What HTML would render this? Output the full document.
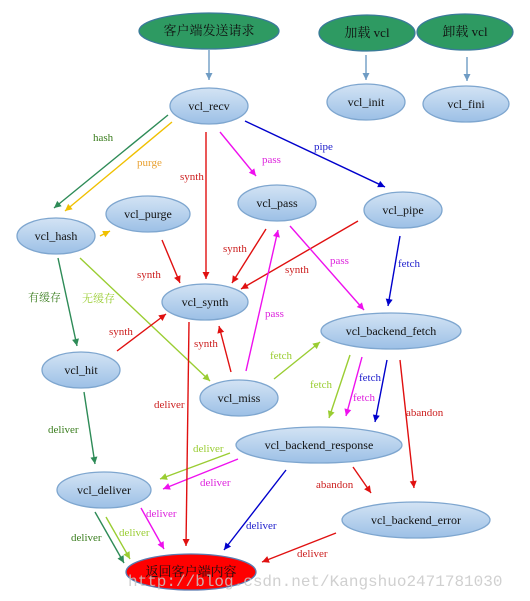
<!DOCTYPE html>
<html><head><meta charset="utf-8"><style>
html,body{margin:0;padding:0;background:#fff;}
svg{display:block;font-family:"Liberation Serif","Noto Serif CJK SC",serif;}
</style></head><body>
<svg width="530" height="601" viewBox="0 0 530 601">
<defs>
<linearGradient id="nb" x1="0" y1="0" x2="0" y2="1"><stop offset="0" stop-color="#d3e3f4"/><stop offset="1" stop-color="#9cc0e6"/></linearGradient>
</defs>
<g id="edges"></g>
<g id="nodes"></g>
<g id="labels"></g>
<text x="128" y="586" font-family="Liberation Mono, monospace" font-size="16" fill="#c8c8c8" fill-opacity="0.85">http://blog.csdn.net/Kangshuo2471781030</text>
</svg>
<script>
const NS='http://www.w3.org/2000/svg';
const nodeNames=['客户端发送请求','加载 vcl','卸载 vcl','vcl_init','vcl_fini','vcl_recv','vcl_pass','vcl_pipe','vcl_purge','vcl_hash','vcl_synth','vcl_backend_fetch','vcl_hit','vcl_miss','vcl_backend_response','vcl_deliver','vcl_backend_error','返回客户端内容'];
const nodeGeo=[[209,31,70,18],[367,33,48,18],[465,32,48,18],[366,102,39,18],[466,104,43,18],[209,106,39,18],[277,203,39,18],[403,210,39,18],[148,214,42,18],[56,236,39,18],[205,302,43,18],[391,331,70,18],[81,370,39,18],[239,398,39,18],[319,445,83,18],[104,490,47,18],[416,520,74,18],[191,572,65,18]];
const edges=[
[209,50,209,80,'#6f9cc4'],[366,55,366,80,'#6f9cc4'],[467,57,467,81,'#6f9cc4'],
[168,115,54,208,'#2e8b57'],[172,122,65,211,'#f0c000'],[206,132,206,279,'#e01010'],[220,132,256,176,'#ee10ee'],[245,121,385,187,'#0000cc'],
[100,236,110,231,'#f0c000'],[162,240,180,283,'#e01010'],[266,229,232,283,'#e01010'],[358,221,241,289,'#e01010'],[290,226,364,310,'#ee10ee'],[400,236,388,306,'#0000cc'],
[58,258,77,346,'#2e8b57'],[80,258,210,381,'#9acd32'],[117,351,166,314,'#e01010'],[231,372,219,326,'#e01010'],[246,371,278,230,'#ee10ee'],[274,379,320,342,'#9acd32'],
[350,355,329,418,'#9acd32'],[362,357,346,416,'#ee10ee'],[387,360,375,422,'#0000cc'],[400,360,414,488,'#e01010'],
[230,453,160,479,'#9acd32'],[238,459,163,489,'#ee10ee'],[286,470,224,550,'#0000cc'],[353,467,371,493,'#e01010'],[336,533,262,562,'#e01010'],
[84,392,95,464,'#2e8b57'],[189,322,186,546,'#e01010'],[95,512,124,563,'#2e8b57'],[106,517,130,559,'#9acd32'],[141,508,164,549,'#ee10ee']];
const labels=[
['hash',93,141,'#3a7d1e'],['purge',137,166,'#e8a030'],['synth',180,180,'#cc2020'],['pass',262,163,'#dd22dd'],['pipe',314,150,'#2020cc'],
['synth',137,278,'#cc2020'],['synth',223,252,'#cc2020'],['synth',285,273,'#cc2020'],['pass',330,264,'#dd22dd'],['fetch',398,267,'#2020cc'],
['有缓存',28,301,'#3a7d1e'],['无缓存',82,302,'#9acd32'],['synth',109,335,'#cc2020'],['synth',194,347,'#cc2020'],['pass',265,317,'#dd22dd'],['fetch',270,359,'#9acd32'],
['fetch',310,388,'#9acd32'],['fetch',359,381,'#2020cc'],['fetch',353,401,'#dd22dd'],['abandon',406,416,'#cc2020'],
['deliver',154,408,'#cc2020'],['deliver',48,433,'#3a7d1e'],['deliver',193,452,'#9acd32'],['deliver',200,486,'#dd22dd'],
['deliver',146,517,'#dd22dd'],['deliver',119,536,'#9acd32'],['deliver',71,541,'#3a7d1e'],['deliver',246,529,'#2020cc'],['abandon',316,488,'#cc2020'],['deliver',297,557,'#cc2020']];
const ge=document.getElementById('edges'),gn=document.getElementById('nodes'),gl=document.getElementById('labels');
edges.forEach(e=>{
 const[x1,y1,x2,y2,c]=e;
 const l=document.createElementNS(NS,'line');
 
 
 l.setAttribute('x1',x1);l.setAttribute('y1',y1);l.setAttribute('x2',x2);l.setAttribute('y2',y2);
 l.setAttribute('stroke',c);l.setAttribute('stroke-width','1.4');ge.appendChild(l);
 const a=Math.atan2(y2-y1,x2-x1),s=7,w=3.5;
 const p=[[x2,y2],[x2-s*Math.cos(a)+w*Math.sin(a),y2-s*Math.sin(a)-w*Math.cos(a)],[x2-s*Math.cos(a)-w*Math.sin(a),y2-s*Math.sin(a)+w*Math.cos(a)]];
 const h=document.createElementNS(NS,'polygon');
 
 
 h.setAttribute('points',p.map(q=>q.join(',')).join(' '));h.setAttribute('fill',c);ge.appendChild(h);
});
nodeNames.forEach((n,i)=>{
 const[cx,cy,rx,ry]=nodeGeo[i];
 const g=document.createElementNS(NS,'g');
 
 
 const el=document.createElementNS(NS,'ellipse');
 el.setAttribute('cx',cx);el.setAttribute('cy',cy);el.setAttribute('rx',rx);el.setAttribute('ry',ry);
 let fill='url(#nb)',stroke='#7ea6cf';
 if(i<3){fill='#2e9a62';stroke='#3a7a9a';}
 if(i===17){fill='#ff0000';stroke='#5a7ab0';}
 el.setAttribute('fill',fill);el.setAttribute('stroke',stroke);el.setAttribute('stroke-width','1.3');
 g.appendChild(el);
 const t=document.createElementNS(NS,'text');
 t.setAttribute('x',cx);t.setAttribute('y',cy+4);t.setAttribute('text-anchor','middle');
 t.setAttribute('font-size',i<3||i===17?'13':'12');t.setAttribute('fill','#111');
 t.textContent=n;g.appendChild(t);gn.appendChild(g);
});
labels.forEach(L=>{
 const t=document.createElementNS(NS,'text');
 
 
 t.setAttribute('x',L[1]);t.setAttribute('y',L[2]);t.setAttribute('font-size','11');t.setAttribute('fill',L[3]);
 t.textContent=L[0];gl.appendChild(t);
});
</script>
</body></html>
